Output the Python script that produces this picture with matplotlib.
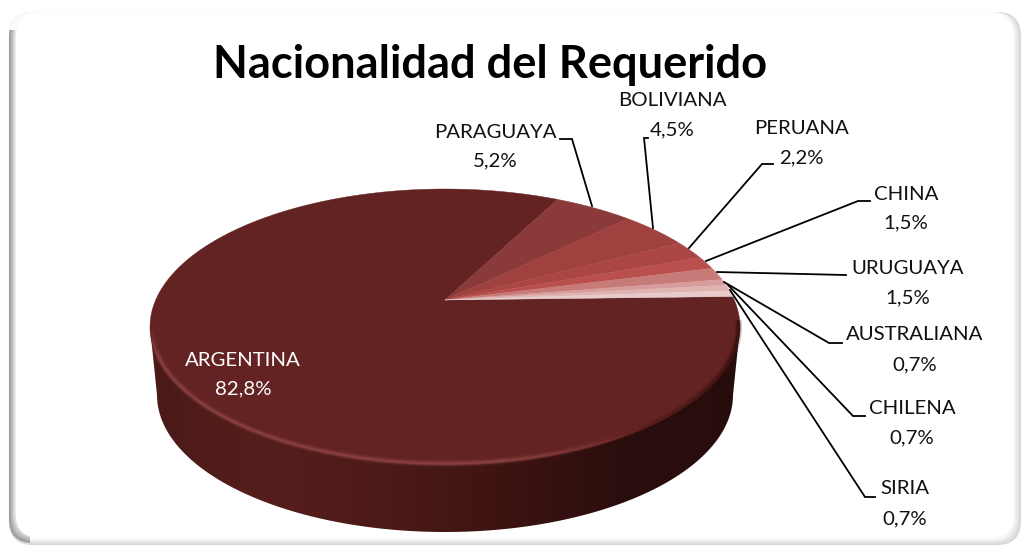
import numpy as np
import matplotlib
matplotlib.use('Agg')
import matplotlib.pyplot as plt
from matplotlib.collections import LineCollection
from matplotlib.colors import LinearSegmentedColormap
from matplotlib.patches import FancyBboxPatch, Polygon, Rectangle

# Datos del grafico
nationalities = ['ARGENTINA', 'PARAGUAYA', 'BOLIVIANA', 'PERUANA', 'CHINA',
                 'URUGUAYA', 'AUSTRALIANA', 'CHILENA', 'SIRIA']
percentages = [82.8, 5.2, 4.5, 2.2, 1.5, 1.5, 0.7, 0.7, 0.7]
slice_colors = ['#632323', '#8a3a38', '#9e413f', '#aa4644', '#ba504d',
                '#c77b79', '#d79c9b', '#deb3b2', '#e6cbca']
title = 'Nacionalidad del Requerido'

# Posicion de las etiquetas (centro x, y linea 1, y linea 2), en pixeles
label_pos = [(243, 360, 389), (495, 132, 161), (672, 101, 130), (801, 128, 158),
             (906, 194, 223), (908, 269, 298), (915, 335, 365), (912, 409, 438),
             (905, 489, 519)]
leaders = [None,
           [(592, 206), (572, 139), (560, 139)],
           [(653, 228), (644, 138), (648, 138)],
           [(689, 248), (762, 164), (773, 164)],
           [(706, 261), (858, 201), (870, 201)],
           [(717, 272), (846, 275)],
           [(724, 282), (829, 343), (842, 343)],
           [(728, 285), (853, 416), (865, 416)],
           [(730, 290), (865, 497), (875, 497)]]

W, H = 1021, 545
CX, CY, RX, RY = 445, 327, 295, 138
BX, BY, BRX, BRY = 445, 395, 288, 137
START = 88.5  # grados, sentido horario desde arriba
K = 0.196     # perspectiva: el vertice queda arriba del centro de la elipse


def rim(deg):
    t = np.radians(deg)
    X, Y = np.sin(t), np.cos(t)
    d = 1 + K * Y
    return CX + RX * np.sqrt(1 - K**2) * X / d, CY - RY * (Y + K) / d


def box(x0, y0, x1, y1, color, z, r=24):
    p = FancyBboxPatch((x0, y0), x1 - x0, y1 - y0,
                       boxstyle=f'round,pad=0,rounding_size={r}',
                       fc=color, ec='none', zorder=z)
    ax.add_patch(p)
    return p


fig = plt.figure(figsize=(W / 100, H / 100), dpi=100)
ax = fig.add_axes([0, 0, 1, 1])
ax.set_xlim(0, W)
ax.set_ylim(H, 0)
ax.axis('off')

# Marco: sombra clara abajo y a la derecha
for i in range(8):
    g = 0.84 + i * 0.02
    box(9, 12, 1021 - i, 545 - i * 0.8, (g, g, g), 1)
# Marco: sombra oscura a la izquierda
clip = Rectangle((0, 30), 30, H, transform=ax.transData)
for i in range(8):
    g = 0.60 + i * 0.055
    p = box(9 + i, 12, 1021, 543 - i * 1.2, (g, g, g), 1.5)
    p.set_clip_path(clip)
box(16, 13, 1014, 538, 'white', 2)

# Costado del pastel con degradado
a = np.linspace(0, np.pi, 200)
side = [(BX + BRX * np.cos(s), BY + BRY * np.sin(s)) for s in a]
outline = [(CX + RX, CY)] + side + [(CX - RX, CY)]
side_patch = Polygon(outline, closed=True, fc='none', ec='none', zorder=3)
ax.add_patch(side_patch)
cmap = LinearSegmentedColormap.from_list(
    'lado', ['#4a1a18', '#561e1c', '#4c1a18', '#3d1312', '#2a0e0d', '#260d0c'])
img = ax.imshow(np.linspace(0, 1, 256).reshape(1, -1), extent=(150, 740, H, 0),
                cmap=cmap, aspect='auto', zorder=3)
img.set_clip_path(side_patch)
ax.set_xlim(0, W)
ax.set_ylim(H, 0)

# Cara superior: una porcion por valor
apex = (CX, CY - RY * K)
total = sum(percentages)
angle = START
for nat, pct, col in zip(nationalities, percentages, slice_colors):
    span = pct / total * 360
    pts = [rim(d) for d in np.linspace(angle, angle + span, max(int(span * 2), 8))]
    ax.add_patch(Polygon([apex] + pts, closed=True, fc=col, ec=col, lw=0.3, zorder=4))
    angle += span

# Bisel del borde: claro a la izquierda, oscuro a la derecha
s = np.linspace(-0.05, np.pi + 0.02, 300)
ex = CX + (RX - 1.5) * np.cos(s)
ey = CY + (RY - 1.5) * np.sin(s)
segs = np.stack([np.c_[ex[:-1], ey[:-1]], np.c_[ex[1:], ey[1:]]], axis=1)
u = (s[:-1] + 0.05) / (np.pi + 0.07)
light = np.clip((u - 0.25) / 0.2, 0, 1) * np.clip((1 - u) / 0.08, 0, 1)
dark = np.clip((0.32 - u) / 0.25, 0, 1)
for lw, al in [(5, 0.14), (3, 0.22), (1.5, 0.30)]:
    rgba = np.zeros((len(u), 4))
    rgba[:, :3] = matplotlib.colors.to_rgb('#a85a55')
    rgba[:, 3] = light * al
    ax.add_collection(LineCollection(segs, colors=rgba, linewidths=lw, zorder=5))
    rgba = np.zeros((len(u), 4))
    rgba[:, :3] = matplotlib.colors.to_rgb('#2a0c0b')
    rgba[:, 3] = dark * al * 1.5
    ax.add_collection(LineCollection(segs, colors=rgba, linewidths=lw, zorder=5))

# Lineas guia
for line in leaders:
    if line:
        xs, ys = zip(*line)
        ax.plot(xs, ys, color='black', lw=1.3, zorder=6, solid_joinstyle='miter')

# Etiquetas
for i, (nat, pct) in enumerate(zip(nationalities, percentages)):
    x, y1, y2 = label_pos[i]
    c = 'white' if i == 0 else '#111111'
    ax.text(x, y1, nat, ha='center', va='center', family='Lato', fontsize=14.7, color=c, zorder=7)
    ax.text(x, y2, f'{pct:.1f}%'.replace('.', ','), ha='center', va='center',
            family='Lato', fontsize=14.7, color=c, zorder=7)

ax.text(490, 65, title, ha='center', va='center', family='Lato', fontweight='bold',
        fontsize=32.6, color='black', zorder=7)

fig.savefig('out.png', dpi=100)
